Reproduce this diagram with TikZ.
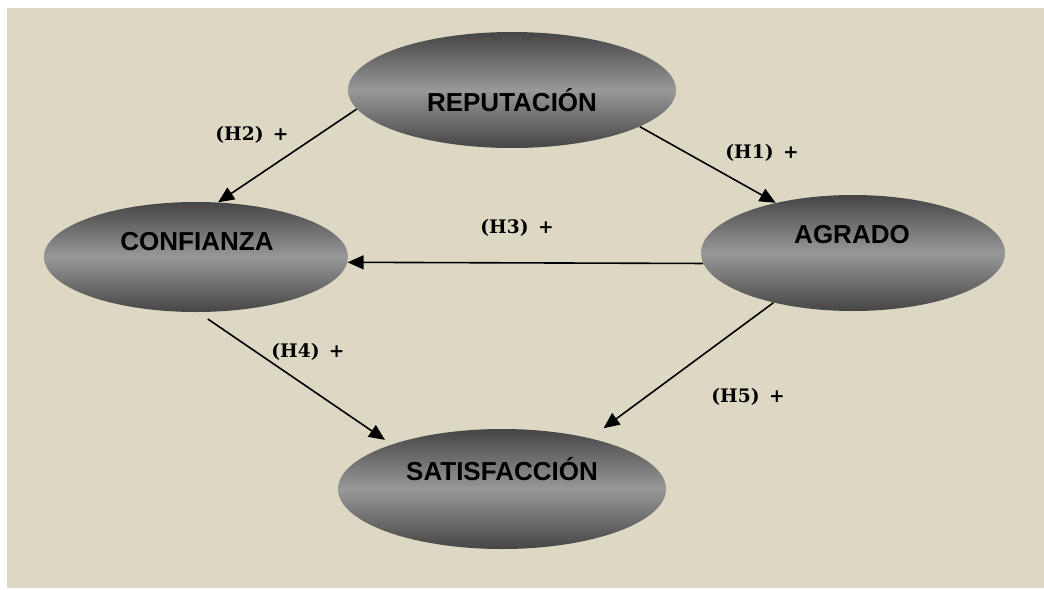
\documentclass[tikz,border=0pt]{standalone}
\usepackage{fontspec}
\usepackage{xcolor}
\usepackage{tikz}
\usetikzlibrary{shapes.geometric,arrows.meta}
\newfontfamily\ovalfont{Liberation Sans}
\newfontfamily\hypfont{DejaVu Serif}
\definecolor{paneBeige}{HTML}{DDD8C3}
\definecolor{ovalDark}{HTML}{454545}
\definecolor{ovalLight}{HTML}{989898}

\begin{document}
\begin{tikzpicture}[x=0.75pt, y=-0.75pt,
    oval/.style={ellipse, inner sep=0pt, top color=ovalDark, bottom color=ovalDark, middle color=ovalLight},
    ovaltext/.style={font=\ovalfont\bfseries\fontsize{19.5}{23}\selectfont, inner sep=0pt},
    hyp/.style={font=\hypfont\bfseries\fontsize{14}{16}\selectfont, inner sep=0pt},
    link/.style={line width=1.2pt, -{Triangle[length=12pt,width=10.5pt]}}]
                \useasboundingbox (0, 0) rectangle (1044, 589);
                \fill[white] (0, 0) rectangle (1044, 589);
                \fill[paneBeige] (7, 8) rectangle (1044, 588);
                % constructs
                \node[oval, minimum width=246pt, minimum height=87pt] (rep) at (512, 90) {};
                \node[oval, minimum width=228pt, minimum height=82.5pt] (conf) at (196, 257) {};
                \node[oval, minimum width=228pt, minimum height=87pt] (agr) at (853, 253) {};
                \node[oval, minimum width=246pt, minimum height=90pt] (sat) at (502, 489) {};
                \node[ovaltext] (reptext) at (512, 100) {REPUTACIÓN};
                \node[ovaltext] (conftext) at (197, 242) {CONFIANZA};
                \node[ovaltext] (agrtext) at (852, 235) {AGRADO};
                \node[ovaltext] (sattext) at (502, 469) {SATISFACCIÓN};
                % hypotheses
                \draw[link] (rep.-16) -- (agr.147);
                \draw[link] (rep.187) -- (conf.68);
                \draw[link] (agr.184) -- (conf.-2.5);
                \draw[link, shorten <=9pt, shorten >=6pt] (conf.-88) -- (sat.158);
                \draw[link, shorten >=12.5pt] (agr.212) -- (sat.30);
                \node[hyp] (h1) at (762, 153) {(H1)\enspace+};
                \node[hyp] (h2) at (252, 135) {(H2)\enspace+};
                \node[hyp] (h3) at (517, 228) {(H3)\enspace+};
                \node[hyp] (h4) at (308, 352) {(H4)\enspace+};
                \node[hyp] (h5) at (748, 397) {(H5)\enspace+};
            \end{tikzpicture}
\end{document}
